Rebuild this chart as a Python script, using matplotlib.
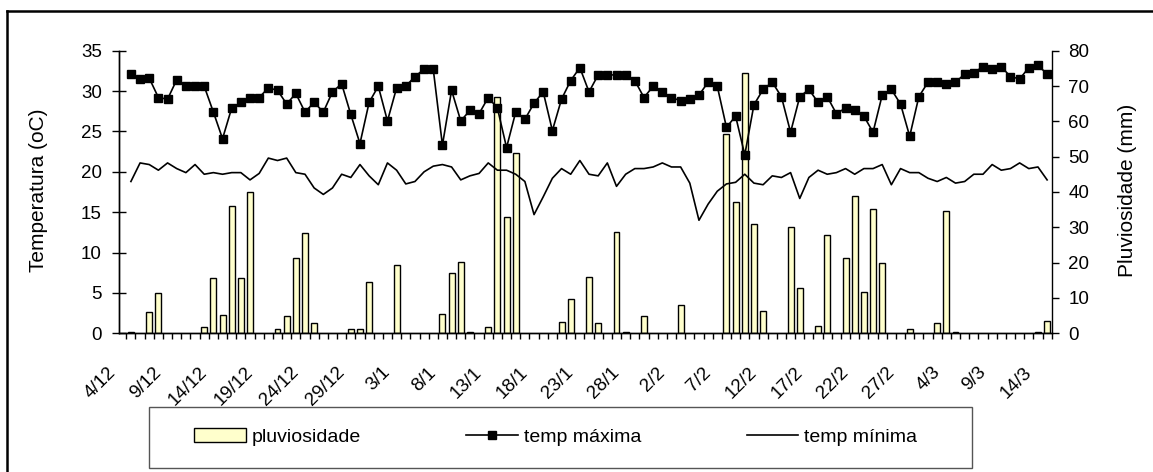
import matplotlib
matplotlib.use("Agg")
import matplotlib.pyplot as plt
from matplotlib.lines import Line2D
from matplotlib.patches import Rectangle
import numpy as np

plt.rcParams['font.family'] = ['Liberation Sans', 'DejaVu Sans']

date_labels = ["4/12", "9/12", "14/12", "19/12", "24/12", "29/12", "3/1", "8/1",
               "13/1", "18/1", "23/1", "28/1", "2/2", "7/2", "12/2", "17/2",
               "22/2", "27/2", "4/3", "9/3", "14/3"]

temp_max = [32.1, 31.5, 31.6, 29.2, 29.0, 31.4, 30.6, 30.6, 30.6, 27.4,
            24.1, 27.9, 28.6, 29.2, 29.2, 30.4, 30.1, 28.4, 29.7, 27.4,
            28.6, 27.4, 29.9, 30.9, 27.1, 23.5, 28.6, 30.6, 26.3, 30.4,
            30.6, 31.8, 32.7, 32.7, 23.3, 30.1, 26.3, 27.6, 27.2, 29.2,
            27.9, 23.0, 27.4, 26.5, 28.5, 29.9, 25.1, 29.0, 31.3, 32.9,
            29.9, 32.0, 32.0, 32.0, 32.0, 31.3, 29.2, 30.6, 29.9, 29.2,
            28.8, 29.0, 29.5, 31.1, 30.6, 25.5, 26.9, 22.1, 28.3, 30.2,
            31.1, 29.3, 24.9, 29.3, 30.2, 28.6, 29.3, 27.2, 27.9, 27.6,
            26.9, 24.9, 29.5, 30.2, 28.4, 24.4, 29.3, 31.1, 31.1, 30.9,
            31.1, 32.1, 32.3, 33.0, 32.7, 33.0, 31.8, 31.5, 32.9, 33.2,
            32.1]

temp_min = [18.8, 21.1, 20.9, 20.2, 21.1, 20.4, 19.9, 20.9, 19.7, 19.9,
            19.7, 19.9, 19.9, 19.0, 19.8, 21.7, 21.4, 21.7, 19.9, 19.7,
            18.0, 17.2, 18.0, 19.7, 19.3, 20.9, 19.5, 18.4, 21.1, 20.2,
            18.5, 18.8, 20.0, 20.7, 20.9, 20.6, 19.0, 19.5, 19.8, 21.1,
            20.2, 20.2, 19.7, 18.8, 14.7, 16.9, 19.2, 20.4, 19.7, 21.4,
            19.7, 19.5, 21.1, 18.2, 19.7, 20.4, 20.4, 20.6, 21.1, 20.6,
            20.6, 18.6, 14.0, 16.0, 17.6, 18.5, 18.7, 19.7, 18.6, 18.4,
            19.5, 19.3, 19.9, 16.7, 19.3, 20.2, 19.7, 19.9, 20.4, 19.7,
            20.4, 20.4, 20.9, 18.4, 20.4, 19.9, 19.9, 19.2, 18.8, 19.3,
            18.6, 18.8, 19.7, 19.7, 20.9, 20.2, 20.4, 21.1, 20.4, 20.6,
            19.0]

pluviosidade = [0.3, 0, 5.9, 11.3, 0, 0, 0, 0, 1.7, 15.6,
                5.2, 36.1, 15.6, 39.9, 0, 0, 1.1, 4.9, 21.4, 28.3,
                2.8, 0, 0, 0, 1.1, 1.1, 14.4, 0, 0, 19.2,
                0, 0, 0, 0, 5.5, 17.2, 20.3, 0.5, 0, 1.7,
                66.8, 33.0, 51.0, 0, 0, 0, 0, 3.3, 9.7, 0,
                16.0, 2.8, 0, 28.8, 0.5, 0, 4.9, 0, 0, 0,
                8.0, 0, 0, 0, 0, 56.3, 37.3, 73.8, 30.9, 6.4,
                0, 0, 30.2, 12.9, 0, 2.2, 27.7, 0, 21.4, 38.9,
                11.8, 35.1, 19.8, 0, 0, 1.1, 0, 0, 2.8, 34.6,
                0.5, 0, 0, 0, 0, 0, 0, 0, 0, 0.5,
                3.4]

W, H = 1153, 472
fig = plt.figure(figsize=(W / 100, H / 100), dpi=100)
ax_left, ax_right_px, ax_top, ax_bottom = 119, 1051.7, 50.7, 333.3
ax = fig.add_axes([ax_left / W, (H - ax_bottom) / H,
                   (ax_right_px - ax_left) / W, (ax_bottom - ax_top) / H])
ax2 = ax.twinx()

n = len(temp_max)
x = np.arange(n)
rain = np.array(pluviosidade, dtype=float)
mask = rain > 0
ax2.bar(x[mask], rain[mask], width=0.65, color='#FFFFCC', edgecolor='black',
        linewidth=1.0, zorder=2)

ax.plot(x, temp_max, color='black', lw=1.2, marker='s', markersize=5.3,
        markerfacecolor='black', markeredgecolor='black', zorder=3)
ax.plot(x, temp_min, color='black', lw=1.2, zorder=3)

ax.set_zorder(ax2.get_zorder() + 1)
ax.patch.set_visible(False)

ax.set_xlim(-0.5, n - 0.5)
ax.set_ylim(0, 35)
ax2.set_ylim(0, 80)
ax.set_yticks(np.arange(0, 36, 5))
ax2.set_yticks(np.arange(0, 81, 10))

# x axis: minor ticks at category boundaries, date labels every 5 days
ax.set_xticks(np.arange(-0.5, n, 1), minor=True)
label_pos = np.arange(len(date_labels)) * 5 - 1.3
ax.set_xticks(label_pos)
ax.set_xticklabels(date_labels, rotation=45, ha='right', va='top', fontsize=13.5)
ax.tick_params(axis='x', which='major', length=0, pad=22)
ax.tick_params(axis='x', which='minor', length=4.5, width=1.0, direction='out')

ax.tick_params(axis='y', direction='inout', length=10.5, width=1.0, pad=7,
               labelsize=13.5)
ax2.tick_params(axis='y', direction='out', length=5, width=1.0, pad=7,
                labelsize=13.5)

for a in (ax, ax2):
    a.spines['top'].set_visible(False)
    for s in ('left', 'right', 'bottom'):
        a.spines[s].set_linewidth(1.0)
ax.spines['right'].set_visible(False)

ax.set_ylabel('Temperatura (oC)', fontsize=15)
ax.yaxis.set_label_coords((48 - ax_left) / (ax_right_px - ax_left), 0.505)
ax2.set_ylabel('Pluviosidade (mm)', fontsize=15)
ax2.yaxis.set_label_coords((1118 - ax_left) / (ax_right_px - ax_left), 0.505)

# legend
handles = [
    Rectangle((0, 0), 1, 1, facecolor='#FFFFCC', edgecolor='black', lw=1.0),
    Line2D([], [], color='black', lw=1.2, marker='s', markersize=5.3),
    Line2D([], [], color='black', lw=1.2),
]
labels = ['pluviosidade', 'temp máxima', 'temp mínima']
fig.legend(handles, labels, loc='center left',
           bbox_to_anchor=(194 / W, (H - 436.7) / H),
           bbox_transform=fig.transFigure, ncol=3, frameon=False,
           fontsize=14, handlelength=2.65, handletextpad=0.3,
           columnspacing=5.44, borderpad=0, borderaxespad=0, numpoints=1)
fig.add_artist(Rectangle((149.3 / W, (H - 468.3) / H), (971.7 - 149.3) / W,
                         61 / H, transform=fig.transFigure, fill=False,
                         edgecolor='#555555', lw=1.0))

# outer chart border (top and left visible)
fig.add_artist(Line2D([7 / W, 1.0], [(H - 11) / H, (H - 11) / H],
                      transform=fig.transFigure, color='black', lw=1.8))
fig.add_artist(Line2D([7 / W, 7 / W], [0, (H - 11) / H],
                      transform=fig.transFigure, color='black', lw=1.8))

fig.savefig('out.png', dpi=100)
